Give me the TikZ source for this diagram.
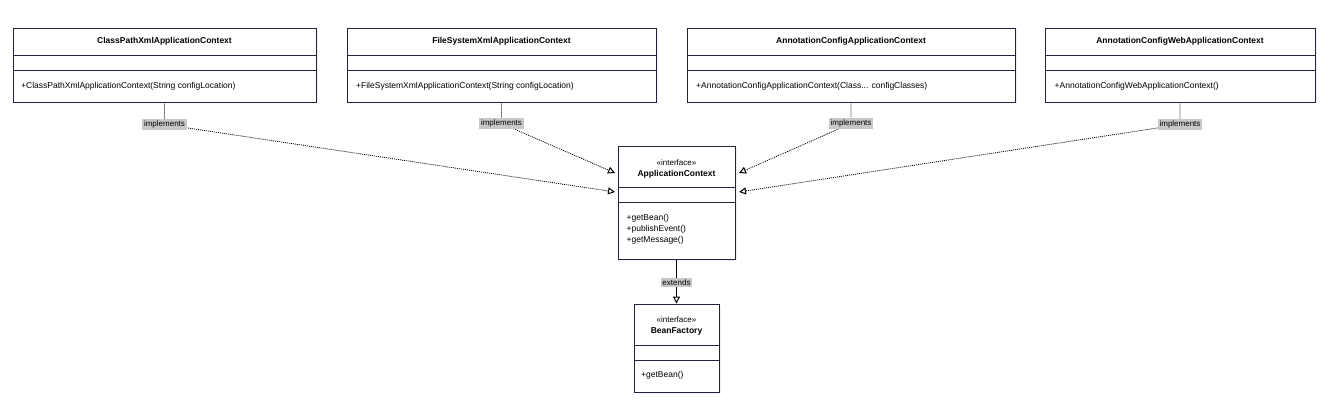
\documentclass[tikz,border=0pt]{standalone}
\usepackage{fontspec}
\setmainfont{Liberation Sans}
\usetikzlibrary{arrows.meta,shadows,backgrounds}
\definecolor{boxline}{RGB}{35,35,60}
\definecolor{lblgray}{RGB}{200,200,200}

\begin{document}
\begin{tikzpicture}
[x=1pt,y=-1pt,font=\fontsize{8.5}{10}\selectfont,
 cls/.style={draw=boxline,line width=0.9pt,fill=white,inner sep=0pt,
   drop shadow={opacity=0.12,shadow xshift=1.5pt,shadow yshift=-1.5pt}},
 title/.style={inner sep=0pt,font=\fontsize{8.5}{10}\selectfont\bfseries},
 stereo/.style={inner sep=0pt,font=\fontsize{8}{10}\selectfont},
 member/.style={anchor=west,inner sep=0pt},
 sepline/.style={draw=boxline,line width=0.9pt},
 lbl/.style={fill=lblgray,inner sep=1.6pt,font=\fontsize{8}{9}\selectfont},
 impl/.style={line width=0.8pt,dash pattern=on 1pt off 1pt,
   -{Triangle[open,length=7pt,width=7pt,line width=1pt]}},
 ext/.style={line width=0.9pt,-{Triangle[open,length=7pt,width=7pt,line width=1pt]}}]

  \useasboundingbox (0,0) rectangle (1330,417);

  % implementing classes
  \node[cls,minimum width=303,minimum height=74] (c1) at (164.5,65) {};
  \node[cls,minimum width=309,minimum height=74] (c2) at (501.5,65) {};
  \node[cls,minimum width=328,minimum height=74] (c3) at (851,65) {};
  \node[cls,minimum width=270,minimum height=74] (c4) at (1180,65) {};

  \node[title] (t1) at (164.5,41.5) {ClassPathXmlApplicationContext};
  \node[title] (t2) at (501.5,41.5) {FileSystemXmlApplicationContext};
  \node[title] (t3) at (851,41.5) {AnnotationConfigApplicationContext};
  \node[title] (t4) at (1180,41.5) {AnnotationConfigWebApplicationContext};

  \foreach \c in {c1,c2,c3,c4} {
    \draw[sepline] (\c.west |- 0,55) -- (\c.east |- 0,55);
    \draw[sepline] (\c.west |- 0,70.7) -- (\c.east |- 0,70.7);
  }

  \node[member] (m1) at (21,86) {+ClassPathXmlApplicationContext(String configLocation)};
  \node[member] (m2) at (356,86) {+FileSystemXmlApplicationContext(String configLocation)};
  \node[member] (m3) at (696,86) {+AnnotationConfigApplicationContext(Class... configClasses)};
  \node[member] (m4) at (1054.5,86) {+AnnotationConfigWebApplicationContext()};

  % interfaces
  \node[cls,minimum width=117,minimum height=113] (ctx) at (676.5,202.5) {};
  \node[stereo] (s1) at (676.5,162.7) {«interface»};
  \node[title] (t5) at (676.5,174.3) {ApplicationContext};
  \draw[sepline] (ctx.west |- 0,187.7) -- (ctx.east |- 0,187.7);
  \draw[sepline] (ctx.west |- 0,202.3) -- (ctx.east |- 0,202.3);
  \node[member] (m5) at (626.5,218.3) {+getBean()};
  \node[member] (m6) at (626.5,229.3) {+publishEvent()};
  \node[member] (m7) at (626.5,240.3) {+getMessage()};

  \node[cls,minimum width=85,minimum height=88] (bf) at (676.5,348) {};
  \node[stereo] (s2) at (676.5,320) {«interface»};
  \node[title] (t6) at (676.5,331.7) {BeanFactory};
  \draw[sepline] (bf.west |- 0,345.3) -- (bf.east |- 0,345.3);
  \draw[sepline] (bf.west |- 0,360) -- (bf.east |- 0,360);
  \node[member] (m8) at (641,375) {+getBean()};

  % labels
  \node[lbl] (l1) at (164.5,124.5) {implements};
  \node[lbl] (l2) at (501.5,123.5) {implements};
  \node[lbl] (l3) at (851,123.5) {implements};
  \node[lbl] (l4) at (1180,124.5) {implements};
  \node[lbl] (le) at (676.5,282.5) {extends};

  \coordinate (ctxwl) at (615,192);
  \coordinate (ctxwu) at (615,173);
  \coordinate (ctxeu) at (739,173);
  \coordinate (ctxel) at (739,192);

  \begin{scope}[on background layer]
    \foreach \from/\via/\to in {c1/l1/ctxwl,c2/l2/ctxwu,c3/l3/ctxeu,c4/l4/ctxel}
      \draw[impl] (\from.south) -- (\via.center) -- (\to);
    \draw[ext] (ctx.south) -- (le.center) -- (bf.north);
  \end{scope}

\end{tikzpicture}
\end{document}
